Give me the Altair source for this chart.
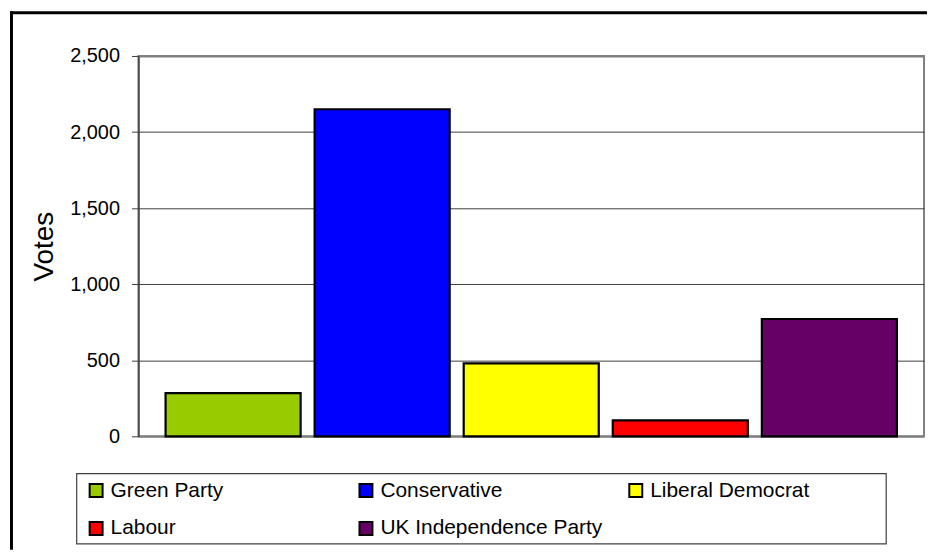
import altair as alt
import pandas as pd

parties = ["Green Party", "Conservative", "Liberal Democrat", "Labour", "UK Independence Party"]
votes = [284, 2150, 480, 105, 771]
colors = ["#99CC00", "#0000FF", "#FFFF00", "#FF0000", "#660066"]
y_ticks = [0, 500, 1000, 1500, 2000, 2500]

FONT = "Liberation Sans"

df = pd.DataFrame({"Party": parties, "Votes": votes})

bars = alt.Chart(df).mark_bar(stroke="black", strokeWidth=2.2).encode(
    x=alt.X(
        "Party:N",
        sort=parties,
        axis=None,
        scale=alt.Scale(paddingInner=0.094, paddingOuter=0.182),
    ),
    y=alt.Y(
        "Votes:Q",
        scale=alt.Scale(domain=[0, 2500], nice=False, zero=True),
        axis=alt.Axis(
            values=y_ticks,
            format=",.0f",
            title="Votes",
            titleFont=FONT,
            titleFontSize=28,
            titleFontWeight="normal",
            titleColor="black",
            titlePadding=11,
            labelFont=FONT,
            labelFontSize=20,
            labelColor="black",
            labelPadding=12,
            tickSize=7,
            tickColor="#404040",
            domainColor="#404040",
            domainWidth=1.5,
            grid=True,
            gridColor=alt.condition(
                "datum.value == 0 || datum.value == 2500",
                alt.value("#808080"),
                alt.value("#3c3c3c"),
            ),
            gridWidth=alt.condition(
                "datum.value == 0 || datum.value == 2500",
                alt.value(2),
                alt.value(1),
            ),
        ),
    ),
    color=alt.Color(
        "Party:N",
        sort=parties,
        scale=alt.Scale(domain=parties, range=colors),
        legend=alt.Legend(
            title=None,
            orient="none",
            legendX=-66,
            legendY=419,
            columns=3,
            direction="horizontal",
            gridAlign="all",
            columnPadding=17,
            rowPadding=16,
            padding=7,
            symbolType="square",
            symbolSize=169,
            symbolStrokeColor="black",
            symbolStrokeWidth=2,
            symbolOpacity=1,
            symbolOffset=6,
            labelFont=FONT,
            labelFontSize=21,
            labelColor="black",
            labelLimit=500,
            labelOffset=4,
        ),
    ),
)

frame_df = pd.DataFrame({"k": [0]})
left_border = alt.Chart(frame_df).mark_rule(color="black", strokeWidth=3).encode(
    x=alt.value(-127.5), y=alt.value(-45), y2=alt.value(496)
)
top_border = alt.Chart(frame_df).mark_rule(color="black", strokeWidth=3).encode(
    y=alt.value(-43.5), x=alt.value(-129), x2=alt.value(792)
)
legend_box = alt.Chart(frame_df).mark_rect(
    fill="white", fillOpacity=0, stroke="#404040", strokeWidth=1.2
).encode(
    x=alt.value(-62), x2=alt.value(751), y=alt.value(419.5), y2=alt.value(490)
)

chart = (
    alt.layer(bars, left_border, top_border, legend_box)
    .properties(width=789, height=382, padding=0, background="white")
    .configure_view(stroke="#808080", strokeWidth=2)
)

chart.save("out.html", embed_options={"renderer": "svg", "actions": False})
